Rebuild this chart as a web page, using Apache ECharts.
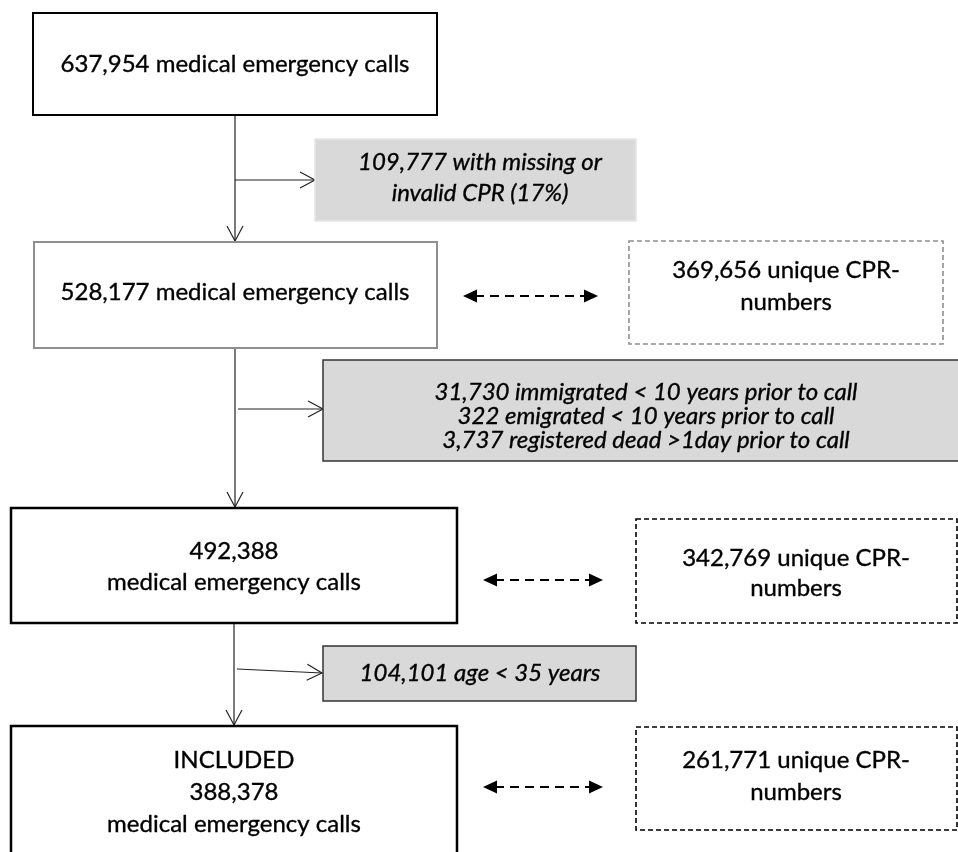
<!DOCTYPE html>
<html><head><meta charset="utf-8">
<script src="https://cdn.jsdelivr.net/npm/echarts@6/dist/echarts.min.js"></script>
<style>html,body{margin:0;padding:0;background:#fff}#chart{width:958px;height:852px}</style>
</head><body><div id="chart"></div>
<script>
// ---------- data ----------
const mainLabels = [
  '637,954 medical emergency calls',
  '528,177 medical emergency calls',
  '492,388\nmedical emergency calls',
  'INCLUDED\n388,378\nmedical emergency calls'
];
const uniqueLabels = [
  '369,656 unique CPR-\nnumbers',
  '342,769 unique CPR-\nnumbers',
  '261,771 unique CPR-\nnumbers'
];
const exclusionLabels = [
  '109,777 with missing or\ninvalid CPR (17%)',
  '31,730 immigrated < 10 years prior to call\n322 emigrated < 10 years prior to call\n3,737 registered dead >1day prior to call',
  '104,101 age < 35 years'
];

// ---------- layout (axis units) ----------
const mainLayout = [
  {box:[33,13,437,115], tx:235, ty:64, lh:31, stroke:'#000', lw:2},
  {box:[34,242,437,348], tx:235, ty:292, lh:31, stroke:'#8f8f8f', lw:2},
  {box:[11,508,457,623], tx:234, ty:567, lh:31, stroke:'#000', lw:2.5},
  {box:[11,726,457,900], tx:234, ty:792, lh:32, stroke:'#000', lw:2.5}
];
const uniqueLayout = [
  {box:[629,241,943,344], tx:786, ty:286, lh:32, stroke:'#8f8f8f', lw:1.6},
  {box:[636,519,957,623], tx:796, ty:573, lh:30, stroke:'#000', lw:1.6},
  {box:[636,727,957,830], tx:796, ty:776, lh:32, stroke:'#000', lw:1.6}
];
const exclusionLayout = [
  {box:[315,139,636,221], tx:480, ty:178, lh:31, stroke:'#e6e6e6', lw:1.5},
  {box:[323,360,980,461], tx:646, ty:416, lh:24, stroke:'#333', lw:1.5},
  {box:[323,646,636,701], tx:480, ty:673, lh:31, stroke:'#333', lw:1.5}
];
const flowLines = [
  [[235,115],[235,241]],
  [[235,348],[235,507]],
  [[234,623],[234,725]]
];
const branchLines = [
  [[235,180],[315,180]],
  [[238,409],[323,409]],
  [[237,669],[322,673]]
];
const linkLines = [
  [[463,296],[598,296]],
  [[483,580],[603,580]],
  [[483,787],[603,787]]
];

function boxSeries(labels, layout, opts) {
  return {
    type: 'custom',
    coordinateSystem: 'cartesian2d',
    data: labels.map((l, i) => [i]),
    clip: false,
    renderItem: function (params, api) {
      const i = api.value(0);
      const L = layout[i];
      const p0 = api.coord([L.box[0], L.box[1]]);
      const p1 = api.coord([L.box[2], L.box[3]]);
      const t = api.coord([L.tx, L.ty]);
      return {
        type: 'group',
        children: [
          {type:'rect', shape:{x:p0[0], y:p0[1], width:p1[0]-p0[0], height:p1[1]-p0[1]},
           style:{fill: opts.fill, stroke: L.stroke, lineWidth: L.lw, lineDash: opts.dash || null}},
          {type:'text', style:{text: labels[i], x: t[0], y: t[1], align:'center', verticalAlign:'middle',
            fontFamily:'Lato', fontSize: opts.fontSize, fontStyle: opts.italic ? 'italic' : 'normal',
            lineHeight: L.lh, fill:'#000', stroke:'#000', lineWidth:0.35}}
        ]
      };
    }
  };
}

function head(tip, from, len, half) {
  const dx = tip[0]-from[0], dy = tip[1]-from[1];
  const d = Math.hypot(dx, dy); const ux = dx/d, uy = dy/d; const px = -uy, py = ux;
  return [[tip[0]-ux*len+px*half, tip[1]-uy*len+py*half], tip, [tip[0]-ux*len-px*half, tip[1]-uy*len-py*half]];
}

function arrowSeries(lines) {
  return {
    type: 'custom', coordinateSystem: 'cartesian2d', clip: false,
    data: lines.map((l, i) => [i]),
    renderItem: function (params, api) {
      const ln = lines[api.value(0)];
      const a = api.coord(ln[0]), b = api.coord(ln[1]);
      return {type:'group', children:[
        {type:'line', shape:{x1:a[0], y1:a[1], x2:b[0], y2:b[1]}, style:{stroke:'#222', lineWidth:1.2}},
        {type:'polyline', shape:{points: head(b, a, 15, 8)}, style:{stroke:'#222', lineWidth:1.2, fill:null}}
      ]};
    }
  };
}

function linkSeries(lines) {
  return {
    type: 'custom', coordinateSystem: 'cartesian2d', clip: false,
    data: lines.map((l, i) => [i]),
    renderItem: function (params, api) {
      const ln = lines[api.value(0)];
      const a = api.coord(ln[0]), b = api.coord(ln[1]);
      const a2 = [a[0]+12, a[1]], b2 = [b[0]-12, b[1]];
      return {type:'group', children:[
        {type:'line', shape:{x1:a2[0], y1:a2[1], x2:b2[0], y2:b2[1]}, style:{stroke:'#000', lineWidth:2.2, lineDash:[9,6]}},
        {type:'polygon', shape:{points: head(a, b, 14, 6.5)}, style:{fill:'#000'}},
        {type:'polygon', shape:{points: head(b, a, 14, 6.5)}, style:{fill:'#000'}}
      ]};
    }
  };
}

const chart = echarts.init(document.getElementById('chart'), null, {renderer:'canvas'});
chart.setOption({
  animation: false,
  backgroundColor: '#fff',
  grid: {left:0, right:0, top:0, bottom:0},
  xAxis: {type:'value', min:0, max:958, show:false},
  yAxis: {type:'value', min:0, max:852, inverse:true, show:false},
  series: [
    arrowSeries(flowLines),
    arrowSeries(branchLines),
    linkSeries(linkLines),
    boxSeries(exclusionLabels, exclusionLayout, {fill:'#d9d9d9', italic:true, fontSize:24}),
    boxSeries(mainLabels, mainLayout, {fill:'#fff', fontSize:24}),
    boxSeries(uniqueLabels, uniqueLayout, {fill:'#fff', fontSize:24, dash:[5,3]})
  ]
});
</script></body></html>
